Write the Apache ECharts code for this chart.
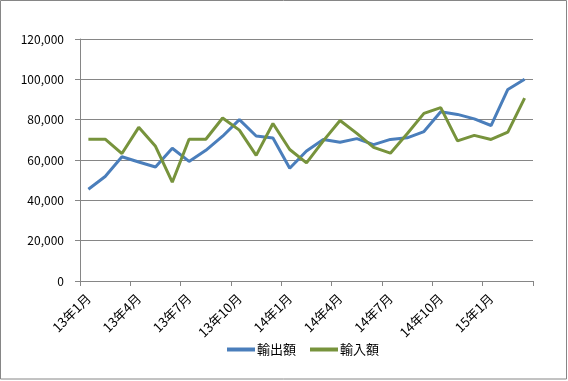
<!DOCTYPE html>
<html>
<head>
<meta charset="utf-8">
<script src="https://cdn.jsdelivr.net/npm/echarts@6/dist/echarts.min.js"></script>
<style>
html,body{margin:0;padding:0;background:#fff;}
#c{width:568px;height:381px;}
</style>
</head>
<body>
<div id="c"></div>
<script>
const categories = [
  '13年1月','13年2月','13年3月','13年4月','13年5月','13年6月','13年7月','13年8月','13年9月',
  '13年10月','13年11月','13年12月','14年1月','14年2月','14年3月','14年4月','14年5月','14年6月',
  '14年7月','14年8月','14年9月','14年10月','14年11月','14年12月','15年1月','15年2月','15年3月'
];
const exportsValues = [
  45500, 51800, 61600, 59000, 56500, 65800, 59300, 64800, 71800,
  80000, 71900, 70900, 55900, 64500, 70200, 68800, 70600, 67600,
  70200, 71000, 74100, 83900, 82600, 80400, 77100, 95000, 100000
];
const importsValues = [
  70300, 70300, 63200, 76200, 66800, 49000, 70300, 70300, 80800,
  74800, 62300, 78100, 65200, 58600, 69500, 79600, 73200, 66300,
  63400, 73000, 83100, 86000, 69500, 72200, 70200, 73800, 90700
];
const seriesNames = ['輸出額', '輸入額'];
const yTicks = { min: 0, max: 120000, interval: 20000 };

const chart = echarts.init(document.getElementById('c'), null, {renderer: 'canvas'});
const font = '"Noto Sans CJK JP", "Noto Sans", sans-serif';
chart.setOption({
  animation: false,
  backgroundColor: '#fff',
  graphic: [{
    type: 'rect',
    shape: {x: 0.5, y: 0.5, width: 566, height: 378.5},
    style: {fill: 'none', stroke: '#868686', lineWidth: 1},
    silent: true
  }],
  grid: {left: 80, right: 35, top: 39, bottom: 100, containLabel: false},
  legend: {
    data: seriesNames,
    top: 338,
    left: 222,
    itemWidth: 28,
    itemHeight: 4,
    itemGap: 14,
    icon: 'rect',
    textStyle: {fontFamily: font, fontSize: 13, color: '#000', padding: [0,0,0,-3]}
  },
  xAxis: {
    type: 'category',
    data: categories,
    boundaryGap: true,
    axisLine: {lineStyle: {color: '#868686', width: 1}},
    axisTick: {show: true, interval: 2, length: 5, lineStyle: {color: '#868686'}},
    axisLabel: {interval: 2, rotate: 45, margin: 15, fontFamily: font, fontSize: 13, color: '#000'},
    splitLine: {show: false}
  },
  yAxis: {
    type: 'value',
    min: yTicks.min,
    max: yTicks.max,
    interval: yTicks.interval,
    axisLine: {show: true, lineStyle: {color: '#868686', width: 1}},
    axisTick: {show: true, length: 5, lineStyle: {color: '#868686'}},
    axisLabel: {
      margin: 16,
      fontFamily: font, fontSize: 12, color: '#000',
      formatter: v => v.toLocaleString('en-US')
    },
    splitLine: {show: true, lineStyle: {color: '#868686', width: 1}}
  },
  series: [
    {name: seriesNames[0], type: 'line', data: exportsValues, symbol: 'none',
     lineStyle: {color: '#4A7EBB', width: 3}, itemStyle: {color: '#4A7EBB'}},
    {name: seriesNames[1], type: 'line', data: importsValues, symbol: 'none',
     lineStyle: {color: '#77933C', width: 3}, itemStyle: {color: '#77933C'}}
  ]
});
</script>
</body>
</html>
